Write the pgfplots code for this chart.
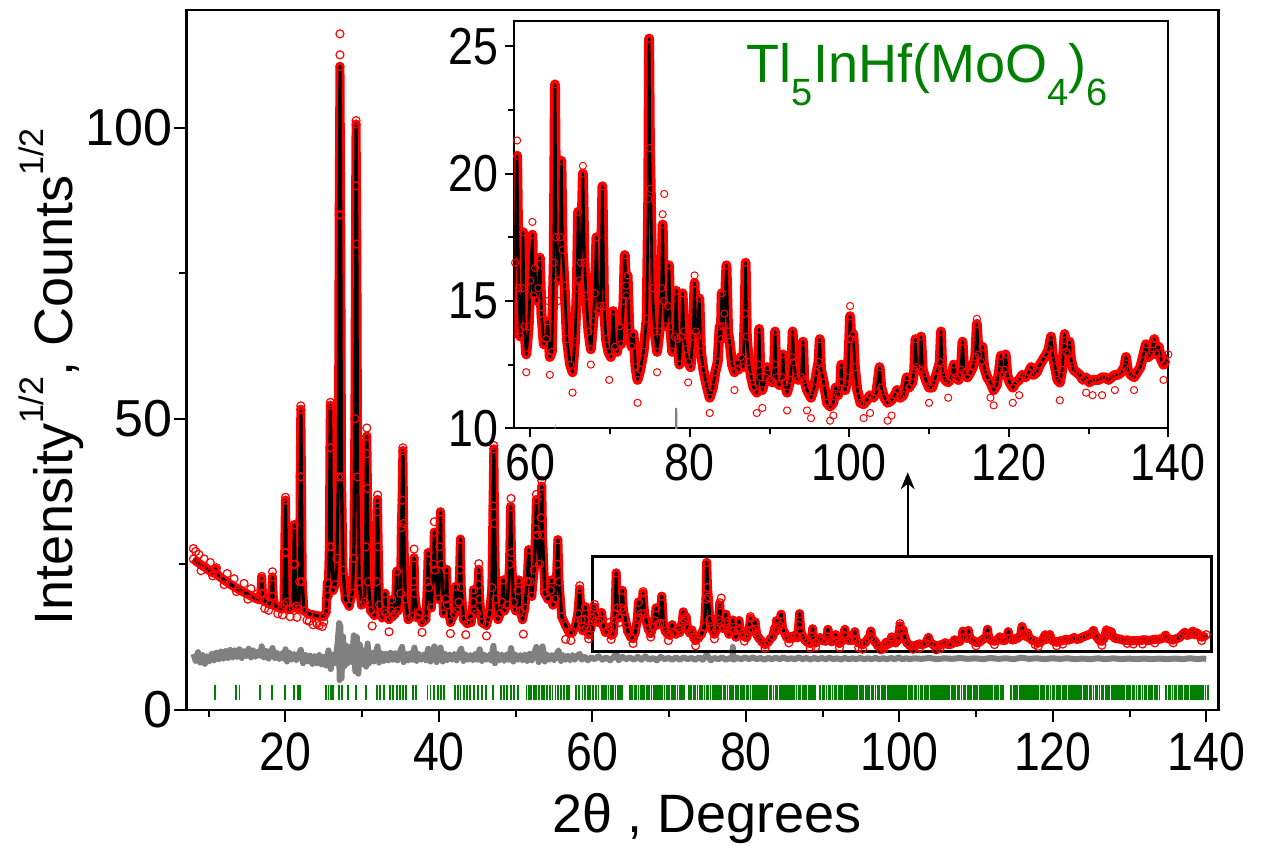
\documentclass[border=0pt]{standalone}
\usepackage{fontspec}
\setmainfont{Liberation Sans}
\newfontfamily\tickfont[FakeStretch=0.86]{Liberation Sans}
\usepackage{pgfplots}
\pgfplotsset{compat=1.18}
\usepackage{pgfplotstable}
\usetikzlibrary{arrows.meta}
\definecolor{tgreen}{RGB}{0,128,0}
\definecolor{tgray}{RGB}{128,128,128}
\newcommand\sups[1]{\raisebox{0.55em}{\fontsize{17}{17}\selectfont #1}}
\newcommand\subs[1]{\raisebox{-0.42em}{\fontsize{19}{19}\selectfont #1}}

\pgfplotstableread{
x y
8.0 25.9
8.5 25.4
9.0 24.9
9.5 24.5
10.0 24.0
10.6 23.5
10.85 24.2
11.1 23.2
12.0 22.3
13.0 21.4
14.0 20.6
15.0 19.9
16.0 19.2
16.6 18.9
16.8 20.0
16.9 22.6
17.0 20.0
17.2 18.7
18.0 18.1
18.2 19.5
18.3 22.8
18.4 19.5
18.6 17.9
19.5 17.3
19.8 18.0
19.9 27.0
20.0 36.0
20.1 27.0
20.2 18.5
20.5 17.2
21.0 17.5
21.08 25.0
21.15 31.8
21.23 25.0
21.4 17.8
21.7 17.3
21.85 22.0
21.92 40.0
22.0 51.6
22.08 40.0
22.18 22.0
22.4 17.0
23.0 16.5
24.0 16.2
25.0 16.0
25.3 16.8
25.45 21.8
25.55 19.5
25.72 28.0
25.8 45.0
25.85 52.3
25.92 45.0
26.0 28.0
26.2 20.5
26.5 21.5
26.7 26.0
26.9 40.0
27.0 85.0
27.1 110.5
27.2 85.0
27.3 40.0
27.5 24.0
27.8 19.0
28.3 17.8
28.7 20.0
28.9 26.0
29.05 50.0
29.15 90.0
29.2 100.6
29.3 80.0
29.4 40.0
29.6 22.0
29.9 18.0
30.3 18.5
30.45 28.0
30.55 44.0
30.6 47.0
30.68 38.0
30.8 22.0
31.1 17.0
31.6 16.2
31.85 22.0
31.95 34.0
32.0 36.1
32.08 28.0
32.25 18.0
32.6 15.8
32.9 17.0
32.98 20.0
33.1 16.5
33.5 15.5
33.8 17.0
33.85 18.9
33.95 16.0
34.3 16.5
34.5 23.8
34.65 17.0
35.0 20.0
35.1 31.3
35.2 36.0
35.3 44.5
35.4 32.0
35.6 19.0
36.0 15.5
36.5 16.0
36.68 22.0
36.76 26.1
36.85 20.0
37.2 15.8
37.5 16.8
37.8 15.0
38.3 15.5
38.5 22.0
38.6 27.0
38.7 21.0
39.0 17.5
39.3 25.0
39.4 30.5
39.5 24.0
39.9 19.0
40.1 28.0
40.2 34.0
40.3 25.0
40.6 16.5
40.9 19.0
41.0 24.1
41.1 18.0
41.5 15.0
42.0 16.5
42.2 21.2
42.35 17.0
42.6 18.5
42.7 24.0
42.8 29.3
42.9 21.0
43.2 15.5
43.7 14.8
44.0 16.0
44.2 15.0
44.45 18.5
44.5 20.6
44.6 17.0
44.9 16.5
45.1 21.5
45.2 24.1
45.3 19.0
45.6 15.0
46.2 14.5
46.6 16.5
46.9 21.0
47.05 35.0
47.15 44.8
47.25 32.0
47.4 19.0
47.7 15.5
48.0 16.5
48.2 18.5
48.4 22.3
48.55 17.0
48.9 18.0
49.2 25.0
49.35 34.9
49.45 27.0
49.7 18.5
50.0 17.0
50.3 20.5
50.4 22.3
50.55 17.0
50.9 15.5
51.2 17.5
51.5 22.0
51.7 27.5
51.85 22.0
52.1 19.5
52.4 24.0
52.6 31.0
52.7 36.1
52.82 30.0
53.1 25.0
53.3 33.0
53.4 38.4
53.5 30.0
53.8 20.0
54.2 19.0
54.5 20.5
54.7 22.3
54.85 18.0
55.2 19.0
55.4 25.0
55.5 29.2
55.65 22.0
56.0 16.0
56.5 14.5
57.0 13.2
57.4 13.3
57.8 14.5
58.1 16.5
58.35 20.7
58.55 15.5
58.75 13.6
59.0 15.5
59.1 17.7
59.25 14.0
59.5 12.9
59.8 14.0
60.0 15.8
60.27 17.6
60.4 15.2
60.6 16.3
60.8 15.0
61.0 15.5
61.2 16.7
61.4 14.5
61.7 13.3
62.0 13.5
62.2 14.2
62.45 12.8
62.7 13.0
62.95 16.5
63.1 23.5
63.25 17.5
63.5 15.8
63.75 17.5
63.9 20.5
64.05 17.0
64.3 15.6
64.6 13.5
65.0 12.5
65.3 12.2
65.6 13.4
65.85 15.5
66.0 18.5
66.15 15.8
66.35 16.5
66.6 20.0
66.8 16.5
67.0 15.2
67.3 13.8
67.6 13.1
67.9 14.2
68.1 15.3
68.3 17.5
68.5 14.6
68.8 14.8
69.05 19.5
69.25 14.8
69.5 13.5
69.8 13.0
70.1 12.8
70.4 14.6
70.6 13.2
70.9 13.0
71.2 14.0
71.4 13.3
71.7 15.0
71.85 16.8
72.05 15.2
72.2 16.0
72.4 14.0
72.7 13.2
72.95 13.7
73.2 12.4
73.45 11.9
73.8 12.3
74.2 13.0
74.6 14.3
74.8 19.0
74.9 25.3
75.0 21.0
75.1 19.4
75.3 15.5
75.6 13.8
75.9 13.0
76.2 13.8
76.45 15.5
76.6 18.0
76.75 15.0
77.0 14.0
77.25 14.8
77.4 16.4
77.55 14.0
77.8 13.0
78.1 13.6
78.3 15.4
78.45 13.5
78.7 12.5
78.95 13.6
79.1 15.3
79.25 13.8
79.5 13.1
79.8 12.6
80.1 12.4
80.4 13.6
80.6 15.7
80.75 13.8
80.95 13.6
81.2 15.1
81.4 13.0
81.7 12.3
82.1 11.7
82.5 11.2
82.9 11.6
83.2 12.2
83.5 12.6
83.75 14.0
83.9 13.5
84.0 15.3
84.2 14.0
84.35 14.5
84.6 16.4
84.8 13.8
85.0 13.4
85.3 12.5
85.6 12.2
85.9 12.6
86.1 12.3
86.4 12.8
86.7 12.4
86.9 14.5
87.0 16.5
87.15 13.6
87.4 12.6
87.7 12.0
88.0 11.6
88.4 11.4
88.6 12.5
88.7 13.9
88.85 12.0
89.1 11.5
89.5 12.0
89.7 12.4
90.0 11.9
90.4 11.8
90.6 12.5
90.7 13.8
90.85 12.0
91.2 11.7
91.55 12.0
91.7 12.9
91.85 11.8
92.2 11.4
92.6 11.9
92.8 12.8
92.9 13.8
93.05 12.6
93.3 12.0
93.6 11.9
94.0 12.0
94.2 13.4
94.35 11.9
94.7 11.5
95.2 11.2
95.6 11.6
95.9 12.2
96.15 12.6
96.3 13.5
96.45 12.3
96.8 11.8
97.2 11.0
97.6 10.85
98.0 11.0
98.3 11.6
98.6 11.3
98.9 11.8
99.0 12.5
99.15 11.8
99.5 11.5
99.8 12.0
100.0 13.5
100.1 14.4
100.25 13.5
100.5 13.7
100.7 12.4
101.0 11.5
101.4 11.0
101.8 10.95
102.2 11.1
102.6 11.3
103.0 11.2
103.4 11.4
103.8 12.4
104.0 11.6
104.4 11.2
104.8 11.0
105.3 11.1
105.7 11.3
106.0 11.5
106.4 11.2
106.8 11.3
107.2 12.0
107.5 11.6
107.9 11.8
108.15 12.3
108.3 13.5
108.45 12.4
108.8 12.3
109.0 13.6
109.2 12.3
109.6 11.9
110.0 11.6
110.4 11.6
110.8 12.0
111.1 12.3
111.35 12.6
111.5 13.8
111.65 12.3
112.0 11.9
112.4 11.8
112.8 12.0
113.1 12.5
113.3 12.0
113.7 11.9
114.0 12.3
114.2 13.4
114.4 12.2
114.8 12.0
115.2 12.2
115.5 12.4
115.8 12.8
116.0 14.1
116.2 12.9
116.5 12.6
116.7 13.2
116.9 12.4
117.3 12.0
117.7 11.8
118.1 11.5
118.5 11.7
118.8 12.3
119.0 12.85
119.2 12.1
119.45 12.3
119.6 12.9
119.8 12.1
120.1 11.8
120.5 11.6
120.9 11.8
121.3 11.9
121.7 12.1
122.1 12.0
122.5 12.2
122.8 12.4
123.1 12.1
123.5 12.2
123.9 12.5
124.3 12.7
124.7 12.9
125.0 13.1
125.3 13.6
125.5 12.9
125.8 12.4
126.1 11.9
126.4 11.8
126.7 12.3
126.9 13.2
127.0 13.7
127.2 13.0
127.4 12.9
127.6 13.4
127.8 12.7
128.1 12.3
128.5 12.2
128.9 12.1
129.3 11.9
129.7 12.0
130.1 11.8
130.5 11.9
130.9 11.9
131.3 11.9
131.7 12.0
132.1 12.0
132.5 11.9
132.9 12.0
133.3 12.1
133.7 12.1
134.1 12.2
134.5 12.4
134.7 12.8
134.9 12.3
135.3 12.1
135.7 12.0
136.1 12.2
136.5 12.4
136.9 12.9
137.2 13.3
137.5 12.8
137.8 12.9
138.1 13.3
138.25 13.5
138.5 12.9
138.8 13.2
139.1 12.7
139.4 12.5
139.7 12.6
140.0 12.9
}\calc

\pgfplotstableread{
x y
8.0 27.7
8.3 27.2
8.7 26.7
9.4 25.9
10.2 25.3
11.0 24.4
12.4 23.4
13.3 22.5
14.6 21.7
15.5 20.8
16.3 19.9
17.3 17.4
19.0 16.5
20.6 16.0
22.8 15.4
23.6 14.6
24.4 14.5
25.0 15.1
9.0 23.9
10.5 23.0
12.0 21.5
13.6 20.3
15.1 19.0
17.8 17.1
19.6 16.3
21.5 15.9
23.1 15.2
24.1 14.8
24.8 14.3
16.9 22.9
18.3 23.7
20.0 36.5
22.0 52.2
25.85 52.8
27.1 116.1
27.1 112.5
29.2 101.2
30.6 48.4
32.0 36.9
35.3 45.0
36.76 27.6
39.4 32.3
45.2 25.1
47.15 45.4
49.4 36.3
52.7 37.0
53.4 39.4
31.3 14.4
33.5 13.4
37.8 13.3
41.5 13.1
43.5 12.9
46.2 12.7
51.0 13.0
56.5 12.1
57.2 11.9
58.35 21.3
59.5 12.2
60.27 18.1
62.2 15.0
62.45 12.1
63.5 15.0
65.3 11.4
66.6 20.3
67.6 12.5
69.9 11.9
72.0 15.6
73.45 11.0
75.9 12.2
76.6 18.4
76.8 19.2
79.8 11.8
80.6 16.0
82.5 10.6
85.6 11.5
88.4 10.6
89.1 10.8
92.2 10.7
94.7 10.7
95.2 10.4
97.6 10.3
98.0 10.5
100.1 14.8
101.8 10.4
102.6 10.6
104.8 10.3
105.3 10.5
110.0 11.0
112.4 11.2
116.0 14.3
117.7 11.2
118.1 10.9
120.5 11.0
121.3 11.3
126.4 11.1
129.7 11.4
130.5 11.3
131.7 11.3
133.3 11.5
135.7 11.5
139.4 11.9
}\obsx

\pgfplotstableread{
x y
8.0 9.6
8.3 8.4
8.6 9.9
8.9 8.1
9.2 9.4
9.5 7.9
9.8 9.2
10.1 8.3
10.4 9.6
10.7 8.5
11.0 9.8
11.3 8.7
11.6 10.0
11.9 8.8
12.2 10.1
12.5 8.9
12.8 10.3
13.1 9.0
13.4 10.2
13.7 9.1
14.0 10.4
14.3 8.9
14.6 10.1
14.9 9.2
15.2 10.5
15.5 9.0
15.8 10.2
16.1 9.1
16.4 10.0
16.7 9.3
16.9 10.9
17.2 9.0
17.5 10.1
17.8 8.8
18.1 9.9
18.3 10.6
18.6 8.9
18.9 9.8
19.2 8.7
19.5 9.7
19.8 8.8
20.0 10.4
20.2 8.3
20.5 9.8
20.8 8.6
21.1 9.6
21.4 8.5
21.7 9.5
22.0 10.3
22.3 8.0
22.6 9.4
22.9 8.3
23.2 9.3
23.5 7.9
23.8 9.2
24.1 8.0
24.4 9.4
24.7 7.8
25.0 9.1
25.3 7.6
25.6 10.2
25.9 7.0
26.2 9.5
26.5 8.0
26.8 11.5
27.0 14.9
27.05 5.1
27.15 14.5
27.3 5.4
27.5 12.6
27.7 7.5
27.9 11.0
28.1 8.0
28.4 10.8
28.7 8.2
28.9 12.8
29.1 6.6
29.3 12.5
29.5 6.2
29.7 11.2
29.9 7.8
30.2 10.2
30.5 7.4
30.7 11.4
30.9 8.0
31.2 9.8
31.5 8.3
31.8 9.9
32.0 10.9
32.2 8.1
32.5 9.7
32.8 8.4
33.1 9.6
33.4 8.5
33.7 9.8
34.0 8.6
34.3 9.7
34.6 8.5
34.9 9.9
35.2 10.8
35.4 8.2
35.7 9.6
36.0 8.5
36.3 9.7
36.6 8.6
36.8 10.7
37.1 8.4
37.4 9.6
37.7 8.6
38.0 9.5
38.3 8.5
38.6 10.5
38.9 8.3
39.2 9.7
39.4 10.9
39.7 8.2
40.0 9.8
40.2 10.7
40.5 8.3
40.8 9.6
41.1 8.5
41.4 9.5
41.7 8.6
42.0 9.6
42.3 8.5
42.6 9.7
42.9 10.5
43.2 8.4
43.5 9.5
43.8 8.6
44.1 9.4
44.4 8.5
44.7 9.6
45.0 8.6
45.3 10.4
45.6 8.4
45.9 9.5
46.2 8.6
46.5 9.4
46.8 8.5
47.1 11.0
47.3 8.0
47.6 9.6
47.9 8.5
48.2 9.5
48.5 8.4
48.8 9.5
49.1 8.6
49.4 10.6
49.7 8.3
50.0 9.5
50.3 8.6
50.6 9.4
50.9 8.5
51.2 9.5
51.5 8.4
51.8 9.6
52.1 8.5
52.4 9.7
52.7 10.8
53.0 8.2
53.3 9.6
53.5 10.9
53.8 8.3
54.1 9.5
54.4 8.6
54.7 9.4
55.0 8.5
55.3 9.5
55.6 10.2
55.9 8.4
56.2 9.4
56.5 8.6
56.8 9.3
57.1 8.5
57.4 9.4
57.7 8.6
58.0 9.3
58.35 9.6
58.6 8.6
59.0 9.1
59.4 8.5
59.8 9.0
60.3 8.7
60.8 9.2
61.3 8.6
61.8 9.0
62.3 8.5
62.8 9.1
63.1 9.8
63.4 8.5
63.9 9.1
64.4 8.7
64.9 9.0
65.4 8.6
65.9 9.1
66.4 8.6
66.9 9.2
67.4 8.6
67.9 8.9
68.4 8.5
68.9 9.1
69.4 8.7
69.9 8.9
70.4 8.6
70.9 9.0
71.4 8.6
71.9 9.0
72.4 8.7
72.9 8.9
73.4 8.6
73.9 9.0
74.4 8.6
74.9 9.5
75.4 8.5
75.9 8.9
76.4 8.7
76.9 9.0
77.4 8.6
77.9 8.9
78.25 8.7
78.3 10.8
78.4 8.6
78.9 8.9
79.4 8.7
79.9 9.0
80.4 8.7
80.9 9.0
81.4 8.7
81.9 8.9
82.4 8.6
82.9 8.9
83.4 8.7
83.9 8.95
84.4 8.7
84.9 9.0
85.4 8.7
85.9 8.85
86.4 8.7
86.9 9.0
87.4 8.7
87.9 8.9
88.4 8.65
88.9 8.9
89.4 8.7
89.9 8.9
90.4 8.7
90.9 8.95
91.4 8.7
91.9 8.85
92.4 8.65
92.9 8.9
93.4 8.7
93.9 8.85
94.4 8.7
94.9 8.9
95.4 8.7
95.9 8.85
96.4 8.7
96.9 8.9
97.4 8.7
97.9 8.85
98.4 8.7
98.9 8.9
99.4 8.7
99.9 9.0
100.4 8.7
100.9 8.85
101.4 8.7
101.9 8.85
102.9 8.75
103.9 8.9
104.9 8.7
105.9 8.85
106.9 8.75
107.9 8.9
108.9 8.75
109.9 8.85
110.9 8.7
111.9 8.9
112.9 8.75
113.9 8.85
114.9 8.7
115.9 8.95
116.9 8.75
117.9 8.85
118.9 8.7
119.9 8.85
120.9 8.75
121.9 8.85
122.9 8.7
123.9 8.8
124.9 8.7
125.9 8.85
126.9 8.7
127.9 8.85
128.9 8.7
129.9 8.8
130.9 8.7
131.9 8.8
132.9 8.7
133.9 8.8
134.9 8.7
135.9 8.8
136.9 8.7
137.9 8.85
138.9 8.7
139.5 8.8
140.0 8.75
}\resid

\pgfplotstableread{
x y
10.8 2.95
13.6 2.95
14.0 2.95
16.7 2.95
18.2 2.95
19.9 2.95
21.1 2.95
21.6 2.95
21.9 2.95
25.3 2.95
25.6 2.95
25.9 2.95
26.2 2.95
27.0 2.95
27.4 2.95
28.2 2.95
29.2 2.95
30.5 2.95
31.9 2.95
32.3 2.95
32.8 2.95
33.6 2.95
34.0 2.95
34.5 2.95
34.9 2.95
35.3 2.95
35.7 2.95
36.6 2.95
37.0 2.95
38.5 2.95
38.9 2.95
39.4 2.95
39.9 2.95
40.3 2.95
40.7 2.95
42.1 2.95
42.5 2.95
42.8 2.95
43.3 2.95
43.7 2.95
44.1 2.95
44.6 2.95
45.1 2.95
45.6 2.95
46.1 2.95
47.0 2.95
48.1 2.95
48.5 2.95
48.9 2.95
49.4 2.95
49.8 2.95
50.3 2.95
51.4 2.95
51.7 2.95
52.0 2.95
52.4 2.95
52.7 2.95
53.0 2.95
53.4 2.95
53.7 2.95
54.1 2.95
54.5 2.95
54.8 2.95
55.2 2.95
55.5 2.95
55.9 2.95
56.3 2.95
56.7 2.95
57.0 2.95
57.9 2.95
58.3 2.95
58.7 2.95
59.0 2.95
59.4 2.95
59.7 2.95
60.1 2.95
60.5 2.95
60.8 2.95
61.2 2.95
61.5 2.95
61.8 2.95
62.1 2.95
62.4 2.95
62.7 2.95
63.0 2.95
63.3 2.95
63.6 2.95
63.9 2.95
64.9 2.95
65.2 2.95
65.5 2.95
65.7 2.95
66.0 2.95
66.3 2.95
66.6 2.95
66.8 2.95
67.1 2.95
67.4 2.95
67.7 2.95
68.0 2.95
68.3 2.95
68.5 2.95
68.8 2.95
69.1 2.95
69.4 2.95
69.7 2.95
70.0 2.95
70.3 2.95
70.5 2.95
70.8 2.95
71.1 2.95
71.4 2.95
71.7 2.95
71.9 2.95
72.6 2.95
72.9 2.95
73.2 2.95
73.4 2.95
73.7 2.95
74.0 2.95
74.3 2.95
74.6 2.95
74.9 2.95
75.1 2.95
75.4 2.95
75.7 2.95
76.0 2.95
76.2 2.95
76.5 2.95
76.8 2.95
77.1 2.95
77.3 2.95
77.6 2.95
77.9 2.95
78.2 2.95
78.4 2.95
78.7 2.95
79.0 2.95
79.3 2.95
79.5 2.95
79.8 2.95
80.1 2.95
80.3 2.95
80.6 2.95
80.9 2.95
81.2 2.95
81.4 2.95
81.7 2.95
82.0 2.95
82.2 2.95
82.5 2.95
82.8 2.95
83.1 2.95
83.3 2.95
83.6 2.95
83.9 2.95
84.1 2.95
84.4 2.95
84.7 2.95
85.0 2.95
85.2 2.95
85.5 2.95
85.8 2.95
86.0 2.95
86.3 2.95
86.6 2.95
86.9 2.95
87.1 2.95
87.4 2.95
87.7 2.95
87.9 2.95
88.2 2.95
88.5 2.95
88.8 2.95
89.0 2.95
89.7 2.95
90.0 2.95
90.2 2.95
90.5 2.95
90.8 2.95
91.0 2.95
91.3 2.95
91.6 2.95
91.8 2.95
92.1 2.95
92.4 2.95
92.6 2.95
92.9 2.95
93.2 2.95
93.4 2.95
93.7 2.95
94.0 2.95
94.2 2.95
94.5 2.95
94.8 2.95
95.0 2.95
95.3 2.95
95.6 2.95
95.8 2.95
96.1 2.95
96.4 2.95
96.6 2.95
96.9 2.95
97.2 2.95
97.4 2.95
97.7 2.95
98.0 2.95
98.2 2.95
98.5 2.95
98.8 2.95
99.0 2.95
99.3 2.95
99.6 2.95
99.8 2.95
100.1 2.95
100.4 2.95
100.6 2.95
100.9 2.95
101.2 2.95
101.4 2.95
101.7 2.95
102.0 2.95
102.2 2.95
102.5 2.95
102.8 2.95
103.0 2.95
103.3 2.95
103.6 2.95
103.8 2.95
104.1 2.95
104.4 2.95
104.6 2.95
104.9 2.95
105.2 2.95
105.4 2.95
105.7 2.95
106.0 2.95
106.2 2.95
106.5 2.95
106.8 2.95
107.0 2.95
107.3 2.95
107.6 2.95
107.8 2.95
108.1 2.95
108.4 2.95
108.6 2.95
108.9 2.95
109.2 2.95
109.4 2.95
109.7 2.95
110.0 2.95
110.2 2.95
110.5 2.95
110.8 2.95
111.0 2.95
111.3 2.95
111.6 2.95
111.8 2.95
112.1 2.95
112.4 2.95
112.6 2.95
112.9 2.95
113.2 2.95
113.5 2.95
114.6 2.95
114.9 2.95
115.2 2.95
115.4 2.95
115.7 2.95
116.0 2.95
116.2 2.95
116.5 2.95
116.8 2.95
117.0 2.95
117.3 2.95
117.6 2.95
117.8 2.95
118.1 2.95
118.4 2.95
118.6 2.95
118.9 2.95
119.2 2.95
119.4 2.95
119.7 2.95
120.0 2.95
120.2 2.95
120.5 2.95
120.8 2.95
121.0 2.95
121.3 2.95
121.6 2.95
121.8 2.95
122.1 2.95
122.4 2.95
122.6 2.95
122.9 2.95
123.2 2.95
123.4 2.95
123.7 2.95
124.0 2.95
124.2 2.95
124.5 2.95
124.8 2.95
125.0 2.95
125.3 2.95
125.6 2.95
125.8 2.95
126.1 2.95
126.4 2.95
126.6 2.95
126.9 2.95
127.2 2.95
127.4 2.95
127.7 2.95
128.0 2.95
128.2 2.95
128.5 2.95
128.8 2.95
129.0 2.95
129.3 2.95
129.6 2.95
129.8 2.95
130.1 2.95
130.4 2.95
130.6 2.95
130.9 2.95
131.2 2.95
131.4 2.95
131.7 2.95
132.0 2.95
132.2 2.95
132.5 2.95
132.8 2.95
133.0 2.95
133.3 2.95
133.6 2.95
133.9 2.95
134.8 2.95
135.1 2.95
135.3 2.95
135.6 2.95
135.9 2.95
136.1 2.95
136.4 2.95
136.7 2.95
136.9 2.95
137.2 2.95
137.5 2.95
137.7 2.95
138.0 2.95
138.3 2.95
138.5 2.95
138.8 2.95
139.1 2.95
139.3 2.95
139.6 2.95
139.9 2.95
140.2 2.95
}\bragg

\pgfplotsset{
  every axis/.append style={
    /pgf/number format/assume math mode=true,
    scale only axis,
    tick align=outside,
    tick style={black, line width=1pt},
    xtick pos=left, ytick pos=left,
  },
}

\begin{document}
\begin{tikzpicture}

% ---------------- main axis ----------------
\begin{axis}[
  name=main,
  width=516pt, height=349.9pt,
  xmin=7.1, xmax=141.6, ymin=0, ymax=120.2,
  xtick={20,40,60,80,100,120,140},
  minor xtick={10,30,50,70,90,110,130},
  ytick={0,50,100}, minor ytick={25,75},
  major tick length=6pt, minor tick length=3.5pt,
  axis line style={line width=1.3pt},
  xticklabel style={font=\tickfont\fontsize{27}{27}\selectfont, yshift=-2pt},
  yticklabel style={font=\fontsize{26}{26}\selectfont, xshift=2.5pt},
  xlabel={2θ , Degrees},
  ylabel={Intensity\sups{1/2}, Counts\sups{1/2}},
  label style={font=\fontsize{27}{27}\selectfont},
  xlabel style={at={(axis description cs:0.504,-0.155)}, anchor=center},
  ylabel style={at={(axis description cs:-0.131,0.476)}, anchor=center},
]
\addplot[red, line width=4.5pt, line join=round] table[x=x,y=y]{\calc};
\addplot[red, only marks, mark=o, mark size=2pt, mark options={line width=0.6pt}] table[x=x,y=y]{\calc};
\addplot[red, only marks, mark=o, mark size=2pt, mark options={line width=0.6pt}] table[x=x,y=y]{\obsx};
\addplot[black, line width=1.6pt, line join=round] table[x=x,y=y]{\calc};
\addplot[tgray, line width=3pt, line join=round] table[x=x,y=y]{\resid};
\addplot[tgreen, only marks, mark=|, mark size=3.9pt, mark options={line width=0.9pt}] table[x=x,y=y]{\bragg};
\draw[line width=1.6pt] (axis cs:60,10) rectangle (axis cs:140.7,26.3);
\draw[line width=1pt, -{Stealth[length=8.5pt,width=7pt]}] (axis cs:101.1,26.3) -- (axis cs:101.1,40.8);
\end{axis}

% ---------------- inset ----------------
\begin{axis}[
  at={(main.south west)}, anchor=south west,
  xshift=163.9pt, yshift=140.75pt,
  width=327pt, height=203.8pt,
  xmin=58, xmax=140, ymin=10, ymax=26,
  xtick={60,80,100,120,140}, minor xtick={70,90,110,130},
  ytick={10,15,20,25}, minor ytick={12.5,17.5,22.5},
  major tick length=4.5pt, minor tick length=3pt,
  axis line style={line width=1pt},
  tick label style={font=\tickfont\fontsize{26}{26}\selectfont},
  axis background/.style={fill=white},
  restrict x to domain=56:142,
]
\addplot[red, line width=5pt, line join=round] table[x=x,y=y]{\calc};
\addplot[red, only marks, mark=o, mark size=1.8pt, mark options={line width=0.5pt}] table[x=x,y=y]{\calc};
\addplot[red, only marks, mark=o, mark size=1.8pt, mark options={line width=0.5pt}] table[x=x,y=y]{\obsx};
\addplot[black, line width=1.3pt, line join=round] table[x=x,y=y]{\calc};
\addplot[tgray, line width=1pt] table[x=x,y=y]{\resid};
\end{axis}

\node[anchor=base west, text=tgreen, font=\fontsize{27}{27}\selectfont, inner sep=0pt]
  at ([xshift=280pt,yshift=313.4pt]main.south west) {Tl\subs{5}InHf(MoO\subs{4})\subs{6}};

\path ([xshift=-93.25pt,yshift=-70.6pt]main.south west) rectangle ([xshift=542.75pt,yshift=354.9pt]main.south west);
\end{tikzpicture}
\end{document}
